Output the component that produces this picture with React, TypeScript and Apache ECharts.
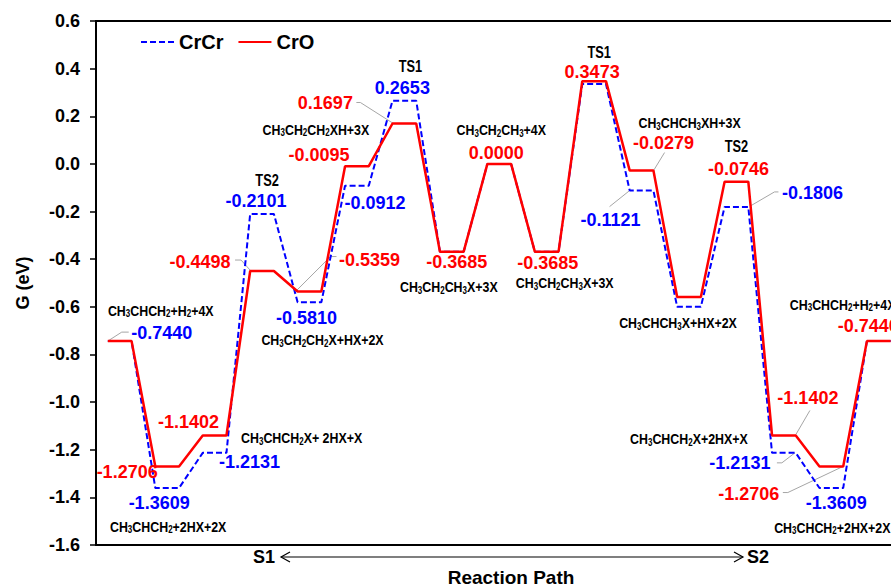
import React, { useEffect, useRef } from "react";
import * as echarts from "echarts";

// ---- data ----
const seriesNames = ["CrCr", "CrO"];
const crcrValues = [-0.744, -1.3609, -1.2131, -0.2101, -0.581, -0.0912, 0.2653, -0.3685, 0.0, -0.3685, 0.335, -0.1121, -0.6, -0.1806, -1.2131, -1.3609, -0.744];
const croValues = [-0.744, -1.2706, -1.1402, -0.4498, -0.5359, -0.0095, 0.1697, -0.3685, 0.0, -0.3685, 0.3473, -0.0279, -0.559, -0.0746, -1.1402, -1.2706, -0.744];
const yMin = -1.6;
const yMax = 0.6;
const yStep = 0.2;
const xAxisTitle = "Reaction Path";
const yAxisTitle = "G (eV)";
const pathStart = "S1";
const pathEnd = "S2";

// annotations: level index, anchor series, text kind, pixel offsets
type Ann = {
  level: number;
  on: "crcr" | "cro";
  kind: "value" | "state" | "ts";
  text?: string;
  dx: number;
  dy: number;
  align?: "left" | "center";
  leader?: number[][];
};
const annotations: Ann[] = [
  { level: 0, on: "cro", kind: "state", text: "CH3CHCH2+H2+4X", dx: 41, dy: -31 },
  { level: 0, on: "crcr", kind: "value", dx: 42, dy: -8, leader: [[-12, 0], [2, -9], [9, -9]] },
  { level: 1, on: "cro", kind: "value", dx: -40, dy: 5 },
  { level: 1, on: "crcr", kind: "value", dx: -8, dy: 15 },
  { level: 1, on: "crcr", kind: "state", text: "CH3CHCH2+2HX+2X", dx: 1, dy: 38 },
  { level: 2, on: "cro", kind: "value", dx: -26, dy: -13 },
  { level: 2, on: "crcr", kind: "value", dx: 35, dy: 9 },
  { level: 2, on: "cro", kind: "state", text: "CH3CHCH2X+ 2HX+X", dx: 87, dy: 2 },
  { level: 3, on: "crcr", kind: "ts", text: "TS2", dx: 5, dy: -33 },
  { level: 3, on: "crcr", kind: "value", dx: -6, dy: -13 },
  { level: 3, on: "cro", kind: "value", dx: -62, dy: -9, leader: [[-27, -11], [-21, -11], [-12, -1]] },
  { level: 4, on: "cro", kind: "value", dx: 60, dy: -32, leader: [[27, -35], [21, -35], [-13, -1]] },
  { level: 4, on: "crcr", kind: "value", dx: -3, dy: 16 },
  { level: 4, on: "crcr", kind: "state", text: "CH3CH2CH2X+HX+2X", dx: 13, dy: 37 },
  { level: 5, on: "cro", kind: "value", dx: -38, dy: -11 },
  { level: 5, on: "crcr", kind: "value", dx: 18, dy: 17 },
  { level: 5, on: "cro", kind: "state", text: "CH3CH2CH2XH+3X", dx: -41, dy: -37 },
  { level: 6, on: "crcr", kind: "ts", text: "TS1", dx: 6, dy: -34 },
  { level: 6, on: "crcr", kind: "value", dx: -2, dy: -13 },
  { level: 6, on: "cro", kind: "value", dx: -79, dy: -20, leader: [[-48, -21], [-44, -21], [-11, 0]] },
  { level: 7, on: "cro", kind: "value", dx: 5, dy: 10 },
  { level: 7, on: "cro", kind: "state", text: "CH3CH2CH3X+3X", dx: -3, dy: 35 },
  { level: 8, on: "cro", kind: "value", dx: -3, dy: -11 },
  { level: 8, on: "cro", kind: "state", text: "CH3CH2CH3+4X", dx: 2, dy: -34 },
  { level: 9, on: "cro", kind: "value", dx: 1, dy: 11 },
  { level: 9, on: "cro", kind: "state", text: "CH3CH2CH3X+3X", dx: 18, dy: 31 },
  { level: 10, on: "cro", kind: "ts", text: "TS1", dx: 5, dy: -29 },
  { level: 10, on: "cro", kind: "value", dx: -2, dy: -9 },
  { level: 11, on: "cro", kind: "state", text: "CH3CHCH3XH+3X", dx: 48, dy: -48 },
  { level: 11, on: "cro", kind: "value", dx: 22, dy: -28, leader: [[23, -18], [12, 0]] },
  { level: 11, on: "crcr", kind: "value", dx: -31, dy: 29, leader: [[-32, 16], [-12, 0]] },
  { level: 12, on: "crcr", kind: "state", text: "CH3CHCH3X+HX+2X", dx: -11, dy: 16 },
  { level: 13, on: "cro", kind: "ts", text: "TS2", dx: 0, dy: -35 },
  { level: 13, on: "cro", kind: "value", dx: 2, dy: -13 },
  { level: 13, on: "crcr", kind: "value", dx: 76, dy: -14, leader: [[42, -15], [38, -15], [14, -1]] },
  { level: 14, on: "cro", kind: "value", dx: 24, dy: -37, leader: [[26, -25], [12, -1]] },
  { level: 14, on: "crcr", kind: "value", dx: -44, dy: 10, leader: [[-7, 10], [-2, 10], [11, 0]] },
  { level: 14, on: "cro", kind: "state", text: "CH3CHCH2X+2HX+X", dx: -95, dy: 3 },
  { level: 15, on: "cro", kind: "value", dx: -82.5, dy: 27, leader: [[-48.5, 26], [-43.5, 26], [11.5, 0]] },
  { level: 15, on: "crcr", kind: "value", dx: 5, dy: 15 },
  { level: 15, on: "crcr", kind: "state", text: "CH3CHCH2+2HX+2X", dx: 1, dy: 39 },
  { level: 16, on: "cro", kind: "state", text: "CH3CHCH2+H2+4X", dx: -89, dy: -37, align: "left" },
  { level: 16, on: "cro", kind: "value", dx: -41, dy: -15, align: "left" },
];

const BLUE = "#0000ff";
const RED = "#ff0000";
const ARIAL = '"Liberation Sans", Arial, Helvetica, sans-serif';
const NARROW_SCALE = 0.8;

function stepPoints(values: number[]) {
  const pts: number[][] = [];
  values.forEach((v, i) => {
    pts.push([2 * i, v]);
    pts.push([2 * i + 1, v]);
  });
  return pts;
}

function toRich(s: string) {
  let out = "";
  let buf = "";
  for (let i = 0; i < s.length; i++) {
    const c = s[i];
    if (/\d/.test(c) && i > 0 && /[A-Za-z]/.test(s[i - 1])) {
      if (buf) out += `{n|${buf}}`;
      buf = "";
      out += `{s|${c}}`;
    } else {
      buf += c;
    }
  }
  if (buf) out += `{n|${buf}}`;
  return out;
}

export default function App() {
  const ref = useRef<HTMLDivElement>(null);
  useEffect(() => {
    if (!ref.current) return;
    const chart = echarts.init(ref.current, null, { renderer: "svg" });
    chart.setOption({
      animation: false,
      backgroundColor: "#ffffff",
      grid: {
        left: 96,
        top: 21,
        width: 806.5,
        height: 524,
        outerBoundsMode: "none",
        containLabel: false,
        show: true,
        borderColor: "#000",
        borderWidth: 2,
        backgroundColor: "transparent",
      },
      legend: {
        data: [{ name: seriesNames[0] }, { name: seriesNames[1] }],
        left: 135,
        top: 27,
        itemWidth: 33,
        itemHeight: 14,
        itemGap: 14,
        itemStyle: { opacity: 0 },
        textStyle: { fontFamily: ARIAL, fontWeight: "bold", fontSize: 20, color: "#000" },
      },
      xAxis: {
        type: "value",
        min: -0.5,
        max: 33.5,
        axisLine: { show: true, onZero: false, lineStyle: { color: "#000", width: 2 } },
        axisTick: { show: false },
        axisLabel: { show: false },
        splitLine: { show: false },
      },
      yAxis: {
        type: "value",
        min: yMin,
        max: yMax,
        interval: yStep,
        name: yAxisTitle,
        nameLocation: "middle",
        nameGap: 64,
        nameTextStyle: { fontFamily: ARIAL, fontWeight: "bold", fontSize: 18, color: "#000" },
        axisLine: { show: true, onZero: false, lineStyle: { color: "#000", width: 2 } },
        axisTick: { show: true, inside: false, length: 6, lineStyle: { color: "#000", width: 1.5 } },
        axisLabel: {
          margin: 16,
          fontFamily: ARIAL,
          fontWeight: "bold",
          fontSize: 18,
          color: "#000",
          formatter: (v: number) => v.toFixed(1),
        },
        splitLine: { show: false },
      },
      series: [
        {
          name: seriesNames[0],
          type: "line",
          data: stepPoints(crcrValues),
          symbol: "none",
          lineStyle: { color: BLUE, width: 2, type: [6, 3] },
          itemStyle: { color: BLUE },
          z: 2,
        },
        {
          name: seriesNames[1],
          type: "line",
          data: stepPoints(croValues),
          symbol: "none",
          lineStyle: { color: RED, width: 2.5 },
          itemStyle: { color: RED },
          z: 3,
        },
      ],
    });

    const graphics: any[] = [];
    annotations.forEach((a) => {
      const vals = a.on === "crcr" ? crcrValues : croValues;
      const v = vals[a.level];
      const p = chart.convertToPixel({ gridIndex: 0 }, [2 * a.level + 0.5, v]) as number[];
      const ax = p[0];
      const ay = p[1];
      if (a.leader) {
        graphics.push({
          type: "polyline",
          shape: { points: a.leader.map((q) => [ax + q[0], ay + q[1]]) },
          style: { stroke: "#a6a6a6", lineWidth: 1, fill: null },
          z: 1,
        });
      }
      const align = a.align || "center";
      if (a.kind === "value") {
        graphics.push({
          type: "text",
          x: ax + a.dx,
          y: ay + a.dy,
          style: {
            text: v.toFixed(4),
            fill: a.on === "crcr" ? BLUE : RED,
            fontFamily: ARIAL,
            fontWeight: "bold",
            fontSize: 18,
            align,
            verticalAlign: "middle",
          },
          z: 10,
        });
      } else if (a.kind === "ts") {
        graphics.push({
          type: "text",
          x: ax + a.dx,
          y: ay + a.dy,
          scaleX: NARROW_SCALE,
          style: {
            text: a.text,
            fill: "#000",
            fontFamily: ARIAL,
            fontWeight: "bold",
            fontSize: 16,
            align,
            verticalAlign: "middle",
          },
          z: 10,
        });
      } else {
        graphics.push({
          type: "text",
          x: ax + a.dx,
          y: ay + a.dy,
          scaleX: NARROW_SCALE,
          style: {
            text: toRich(a.text || ""),
            fill: "#000",
            align,
            verticalAlign: "middle",
            rich: {
              n: { fontFamily: ARIAL, fontWeight: "bold", fontSize: 15.5, fill: "#000", lineHeight: 18 },
              s: { fontFamily: ARIAL, fontWeight: "bold", fontSize: 10, fill: "#000", lineHeight: 8, verticalAlign: "bottom" },
            },
          },
          z: 10,
        });
      }
    });

    // reaction-path arrow and captions
    const ay = 557;
    const x1 = 281;
    const x2 = 743;
    graphics.push(
      { type: "line", shape: { x1, y1: ay, x2, y2: ay }, style: { stroke: "#000", lineWidth: 1.2 } },
      { type: "polyline", shape: { points: [[x1 + 9, ay - 5], [x1, ay], [x1 + 9, ay + 5]] }, style: { stroke: "#000", lineWidth: 1.2, fill: null } },
      { type: "polyline", shape: { points: [[x2 - 9, ay - 5], [x2, ay], [x2 - 9, ay + 5]] }, style: { stroke: "#000", lineWidth: 1.2, fill: null } },
      { type: "text", x: 264, y: ay, style: { text: pathStart, fill: "#000", fontFamily: ARIAL, fontWeight: "bold", fontSize: 18, align: "center", verticalAlign: "middle" } },
      { type: "text", x: 758, y: ay, style: { text: pathEnd, fill: "#000", fontFamily: ARIAL, fontWeight: "bold", fontSize: 18, align: "center", verticalAlign: "middle" } },
      { type: "text", x: 511, y: 577, style: { text: xAxisTitle, fill: "#000", fontFamily: ARIAL, fontWeight: "bold", fontSize: 19, align: "center", verticalAlign: "middle" } }
    );

    chart.setOption({ graphic: graphics });
    return () => chart.dispose();
  }, []);
  return (
    <div
      ref={ref}
      style={{ position: "fixed", left: 0, top: 0, width: 891, height: 587, background: "#fff" }}
    />
  );
}
